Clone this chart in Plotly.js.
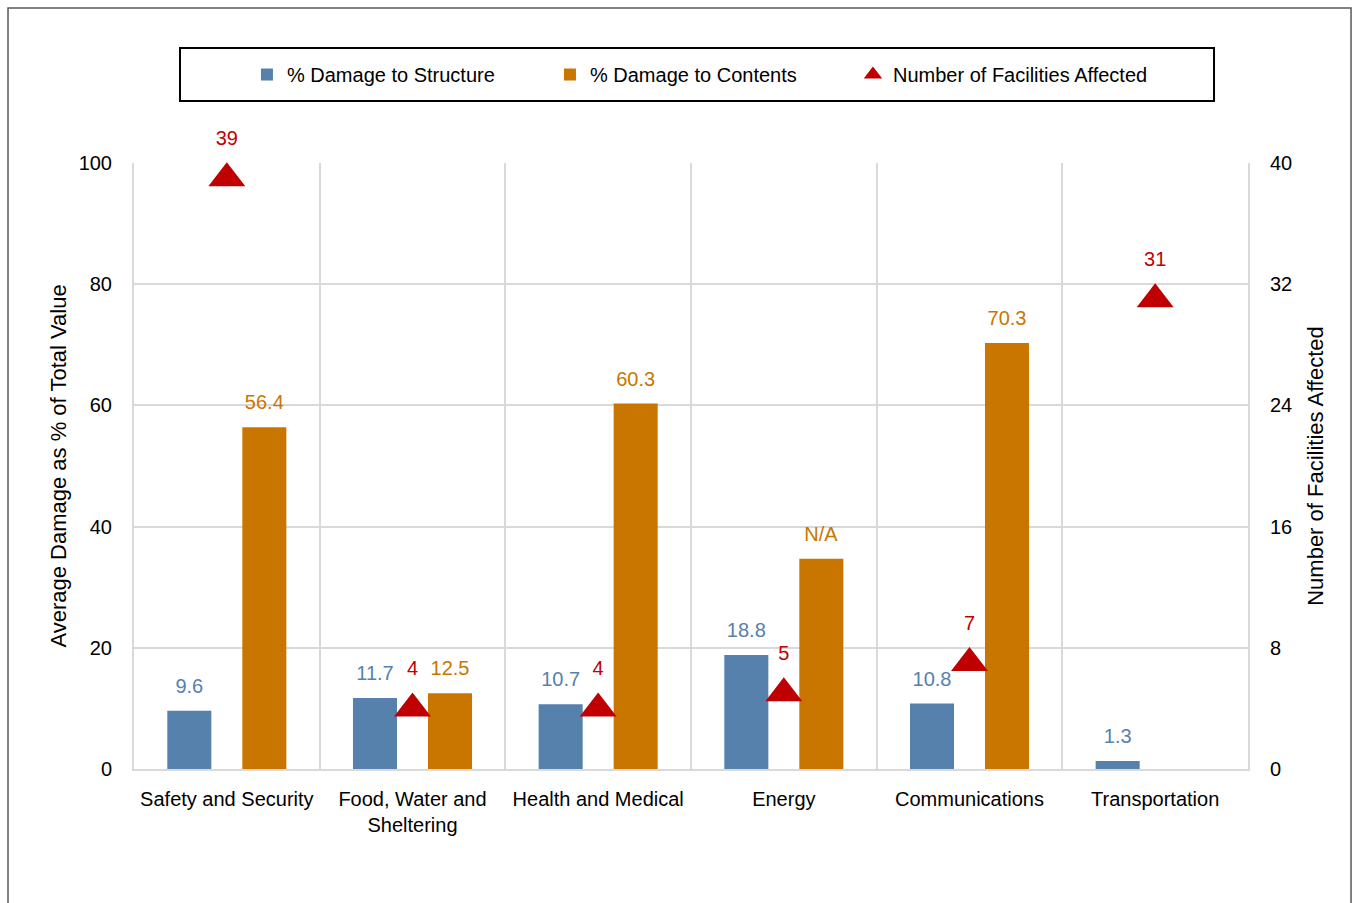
<!DOCTYPE html>
<html>
<head>
<meta charset="utf-8">
<script src="https://cdn.plot.ly/plotly-3.0.1.min.js"></script>
<style>html,body{margin:0;padding:0;background:#fff;}#chart{width:1353px;height:903px;}</style>
</head>
<body>
<div id="chart"></div>
<script>
const categories = ['Safety and Security', 'Food, Water and<br>Sheltering', 'Health and Medical', 'Energy', 'Communications', 'Transportation'];
const structureDamage = [9.6, 11.7, 10.7, 18.8, 10.8, 1.3];
const contentsDamage = [56.4, 12.5, 60.3, 34.7, 70.3, null];
const contentsLabels = ['56.4', '12.5', '60.3', 'N/A', '70.3', ''];
const facilitiesAffected = [39, 4, 4, 5, 7, 31];
const leftTicks = [0, 20, 40, 60, 80, 100];
const rightTicks = [0, 8, 16, 24, 32, 40];

const FONT = '"Liberation Sans Narrow", "Arial Narrow", "Liberation Sans", Arial, sans-serif';
const BLUE = '#5681ad';
const ORANGE = '#c97600';
const RED = '#c00000';

// label with extra spacing below (half line of a small base font)
const LBL = '<span style="font-size:20px">%{text}</span><br> ';

const traces = [
  {
    type: 'bar', name: '% Damage to Structure', x: categories, y: structureDamage,
    marker: {color: BLUE}, text: structureDamage.map(v => v.toFixed(1)),
    texttemplate: LBL, textposition: 'outside', cliponaxis: false, constraintext: 'none',
    textfont: {family: FONT, size: 10, color: BLUE}, hoverinfo: 'skip'
  },
  {
    type: 'bar', name: '% Damage to Contents', x: categories, y: contentsDamage,
    marker: {color: ORANGE}, text: contentsLabels,
    texttemplate: LBL, textposition: 'outside', cliponaxis: false, constraintext: 'none',
    textfont: {family: FONT, size: 10, color: ORANGE}, hoverinfo: 'skip'
  },
  {
    type: 'scatter', mode: 'markers+text', name: 'Number of Facilities Affected',
    x: categories, y: facilitiesAffected, yaxis: 'y2',
    marker: {symbol: 'triangle-up', size: 32, color: RED},
    text: facilitiesAffected.map(String), texttemplate: LBL, textposition: 'top center',
    textfont: {family: FONT, size: 8, color: RED}, cliponaxis: false, hoverinfo: 'skip'
  }
];

const layout = {
  width: 1353, height: 903,
  margin: {l: 134, r: 105, t: 163, b: 134},
  paper_bgcolor: '#fff', plot_bgcolor: '#fff',
  font: {family: FONT, size: 20, color: '#000'},
  barmode: 'group', bargap: 0.192, bargroupgap: 0.413,
  showlegend: true,
  legend: {
    orientation: 'h', x: 0.1014, xanchor: 'left', y: 1.146, yanchor: 'middle',
    entrywidth: 258, entrywidthmode: 'pixels',
    font: {family: FONT, size: 20, color: '#000'},
    bgcolor: 'rgba(0,0,0,0)', borderwidth: 0
  },
  xaxis: {
    type: 'category', tickson: 'boundaries', showgrid: true, gridcolor: '#d9d9d9', gridwidth: 2,
    ticks: '', showline: true, linecolor: '#d9d9d9', linewidth: 2, ticklabelstandoff: 11,
    tickfont: {family: FONT, size: 20, color: '#000'}, fixedrange: true
  },
  yaxis: {
    range: [0, 100], tickvals: leftTicks, ticktext: leftTicks.map(String),
    showgrid: true, gridcolor: '#d9d9d9', gridwidth: 2, zeroline: false,
    showline: true, mirror: true, linecolor: '#d9d9d9', linewidth: 2, ticks: '',
    ticklabelstandoff: 16,
    tickfont: {family: FONT, size: 20, color: '#000'},
    title: {text: 'Average Damage as % of Total Value', font: {family: FONT, size: 22, color: '#000'}, standoff: 6}
  },
  yaxis2: {
    overlaying: 'y', side: 'right', range: [0, 40], tickvals: rightTicks, ticktext: rightTicks.map(String),
    showgrid: false, zeroline: false, showline: false, ticks: '',
    ticklabelstandoff: 21,
    tickfont: {family: FONT, size: 20, color: '#000'},
    title: {text: 'Number of Facilities Affected', font: {family: FONT, size: 22, color: '#000'}, standoff: 16}
  },
  shapes: [
    {type: 'rect', xref: 'paper', yref: 'paper', x0: -0.1131, x1: 1.0925, y0: -0.25, y1: 1.2558,
     line: {color: '#595959', width: 1.5}, fillcolor: 'rgba(0,0,0,0)', layer: 'below'},
    {type: 'rect', xref: 'paper', yref: 'paper', x0: 0.0413, x1: 0.9695, y0: 1.1023, y1: 1.1898,
     line: {color: '#000', width: 2}, fillcolor: 'rgba(0,0,0,0)', layer: 'below'}
  ]
};

Plotly.newPlot('chart', traces, layout, {displayModeBar: false, staticPlot: true});
</script>
</body>
</html>
